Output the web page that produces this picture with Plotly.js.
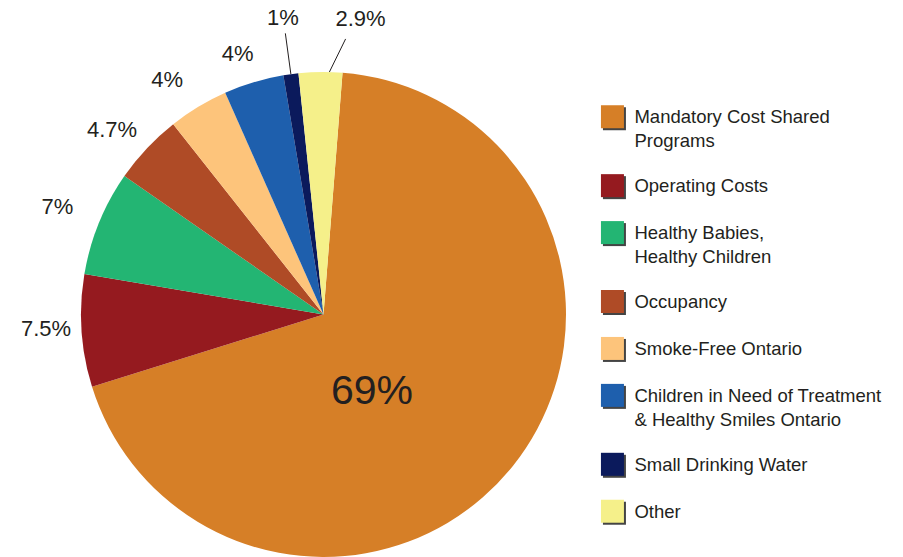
<!DOCTYPE html>
<html><head><meta charset="utf-8">
<script src="https://cdn.plot.ly/plotly-3.0.1.min.js"></script>
<style>
html,body{margin:0;padding:0;background:#fff;overflow:hidden}
#chart{width:903px;height:557px}
</style></head><body><div id="chart"></div>
<script>
// ---- data ----
const categories = ["Mandatory Cost Shared<br>Programs", "Operating Costs", "Healthy Babies,<br>Healthy Children", "Occupancy", "Smoke-Free Ontario", "Children in Need of Treatment<br>& Healthy Smiles Ontario", "Small Drinking Water", "Other"];
const shares = [69, 7.5, 7, 4.7, 4, 4, 1, 2.9];
const shareLabels = ["69%", "7.5%", "7%", "4.7%", "4%", "4%", "1%", "2.9%"];

// ---- styles ----
const sliceColors = ["#D67F27", "#951A1F", "#23B573", "#AF4B26", "#FDC47B", "#1E5FAD", "#0B1A5C", "#F5F08A"];
const textColor = "#231F20";
const W = 903, H = 557;
const R = 242.5, CX = 323.5, CY = 314.5;   // pie centre / radius in px
const rotation = 4.5;
// label placement: angle shift from slice middle (deg), radius in pie-radius units
const labelPlacement = [null,
  {da: 0.5, r: 1.146}, {da: -0.5, r: 1.181}, {da: -2.45, r: 1.152}, {da: -2.8, r: 1.156},
  {da: -1.6, r: 1.127}, {da: -0.1, r: 1.226}, {da: 7.9, r: 1.220}];
// callout lines (index -> start/end angle shift, end radius)
const callouts = {6: {s0: 0, s1: 0, r1: 1.17}, 7: {s0: 2.1, s1: 5.3, r1: 1.14}};
const insideLabel = {angle: 147.3, r: 0.37};

// ---- geometry from data ----
const total = shares.reduce((a, b) => a + b, 0);
const mids = [];
let cum = 0;
shares.forEach(v => { mids.push(rotation + (cum + v / 2) * 360 / total); cum += v; });
const pt = (r, deg) => [r * Math.sin(deg * Math.PI / 180), r * Math.cos(deg * Math.PI / 180)];

const lx = [], ly = [], lt = [];
const cx = [], cy = [];
for (let i = 1; i < shares.length; i++) {
  const c = callouts[i];
  if (c) {
    const a = pt(1.0, mids[i] + c.s0), b = pt(c.r1, mids[i] + c.s1);
    cx.push(a[0], b[0], null); cy.push(a[1], b[1], null);
  }
  const lp = labelPlacement[i];
  const p = pt(lp.r, mids[i] + lp.da);
  lx.push(p[0]); ly.push(p[1]); lt.push(shareLabels[i]);
}
const ip = pt(insideLabel.r, insideLabel.angle);

const xDomain = [(CX - R) / W, (CX + R) / W];
const yDomain = [(H - CY - R) / H, (H - CY + R) / H];

const traces = [
  {
    type: "pie", values: shares, labels: categories.map(c => c + "<br> "),
    sort: false, direction: "clockwise", rotation: rotation,
    marker: {colors: sliceColors, line: {width: 0}},
    textinfo: "none", hoverinfo: "label+percent",
    domain: {x: xDomain, y: yDomain}, showlegend: true
  },
  {
    type: "scatter", mode: "lines", x: cx, y: cy, showlegend: false,
    line: {color: "#231F20", width: 1}, hoverinfo: "skip"
  },
  {
    type: "scatter", mode: "text", x: lx, y: ly, text: lt, showlegend: false,
    textposition: "middle center", cliponaxis: false, hoverinfo: "skip",
    textfont: {family: "Liberation Sans, Arial, sans-serif", size: 22, color: textColor}
  }
];

const layout = {
  width: W, height: H,
  margin: {l: 0, r: 0, t: 0, b: 0},
  paper_bgcolor: "#fff", plot_bgcolor: "rgba(0,0,0,0)",
  font: {family: "Liberation Sans, Arial, sans-serif", color: textColor},
  xaxis: {domain: [0, 1], range: [-CX / R, (W - CX) / R], visible: false, fixedrange: true},
  yaxis: {domain: [0, 1], range: [-(H - CY) / R, CY / R], visible: false, fixedrange: true},
  showlegend: true,
  legend: {
    x: 0.6583, y: 0.8218, xanchor: "left", yanchor: "top",
    font: {size: 16.9, color: textColor}, valign: "top",
    bgcolor: "rgba(0,0,0,0)", traceorder: "normal"
  },
  annotations: [{
    x: ip[0], y: ip[1], xref: "x", yref: "y", text: shareLabels[0], showarrow: false,
    font: {family: "Liberation Sans, Arial, sans-serif", size: 41, color: textColor}
  }]
};

Plotly.newPlot("chart", traces, layout, {displayModeBar: false, staticPlot: true}).then(gd => {
  gd.querySelectorAll(".legend .legendpoints path").forEach(p => {
    p.setAttribute("d", "M9.5,11.5H-13.5V-11.5H9.5Z");
    p.style.filter = "drop-shadow(2px 2px 0px #444)";
  });
  gd.querySelectorAll(".legend text.legendtext").forEach(t => {
    t.style.fontSize = "18.5px";
  });
  gd.querySelectorAll(".legend [clip-path]").forEach(e => e.removeAttribute("clip-path"));
});
</script></body></html>
